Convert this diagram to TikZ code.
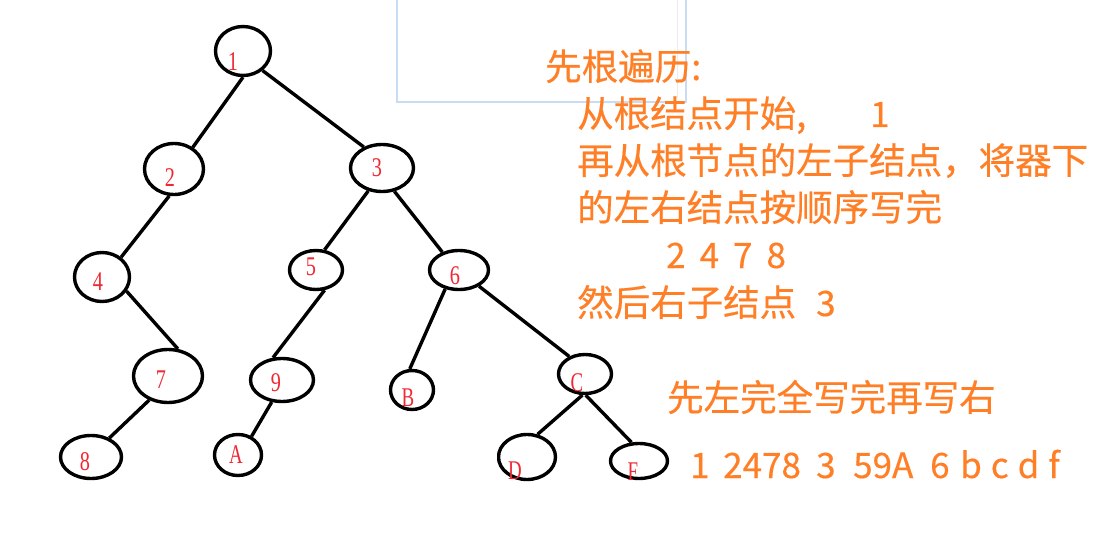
\documentclass[tikz,border=0pt]{standalone}
\usepackage{fontspec}
\usepackage{graphicx}
\usetikzlibrary{shapes.geometric}
\newfontfamily\cjk[FakeBold=0.4]{Noto Sans CJK SC}
\newfontfamily\lbl{Liberation Serif}
\definecolor{orng}{RGB}{255,127,39}
\definecolor{lblred}{RGB}{240,40,50}
\definecolor{frameblue}{RGB}{200,220,246}
\begin{document}
\begin{tikzpicture}[x=1pt,y=-1pt,
  tn/.style={draw=black, line width=3.4pt, ellipse, inner sep=0pt},
  edge/.style={draw=black, line width=3.4pt},
  lab/.style={text=lblred, font=\lbl\fontsize{27}{27}\selectfont, inner sep=0pt},
  txt/.style={text=orng, font=\cjk\fontsize{36.5}{36.5}\selectfont, anchor=base west, inner sep=0pt},
  num/.style={text=orng, font=\cjk\fontsize{35}{35}\selectfont, anchor=base west, inner sep=0pt}]
\useasboundingbox (0,0) rectangle (1120,543);
\fill[white] (0,0) rectangle (1120,543);

% faint frame
\draw[frameblue, line width=1.5pt] (397,-5) rectangle (686,102);
\draw[black!8, line width=1pt] (677,0) -- (677,98);

% tree nodes
\node[tn, minimum width=55pt, minimum height=49pt] (n1) at (243,51) {};
\node[tn, minimum width=59pt, minimum height=51pt] (n2) at (174,169) {};
\node[tn, minimum width=63pt, minimum height=47pt] (n3) at (382,168) {};
\node[tn, minimum width=55pt, minimum height=49pt] (n4) at (102,277) {};
\node[tn, minimum width=53pt, minimum height=39pt] (n5) at (316,270) {};
\node[tn, minimum width=59pt, minimum height=39pt] (n6) at (459,270) {};
\node[tn, minimum width=69pt, minimum height=53pt] (n7) at (168,376) {};
\node[tn, minimum width=61pt, minimum height=43pt] (n8) at (91,457) {};
\node[tn, minimum width=63pt, minimum height=43pt] (n9) at (282,380) {};
\node[tn, minimum width=47pt, minimum height=41pt] (nA) at (238,455) {};
\node[tn, minimum width=43pt, minimum height=39pt] (nB) at (412,390) {};
\node[tn, minimum width=53pt, minimum height=39pt] (nC) at (585,374) {};
\begin{scope}
  \clip (497,420) rectangle (600,495);
  \node[tn, minimum width=57pt, minimum height=45pt] (nD) at (527,457) {};
\end{scope}
\node[tn, minimum width=57pt, minimum height=35pt] (nF) at (639,461) {};

% edges
\draw[edge] (n1.270) -- (n2.49);
\draw[edge] (n1.315) -- (n3.131);
\draw[edge] (n2.260) -- (n4.46);
\draw[edge] (n3.239) -- (n5.67);
\draw[edge] (n3.298) -- (n6.133);
\draw[edge] (n4.330) -- (n7.70);
\draw[edge] (n7.232) -- (n8.46);
\draw[edge] (n5.293) -- (n9.112);
\draw[edge] (n9.245) -- (nA.54);
\draw[edge] (n6.234) -- (nB.96);
\draw[edge] (n6.321) -- (nC.132);
\draw[edge] (nC.263) -- (nD.65);
\draw[edge] (nC.272) -- (nF.112);

% labels
\node[lab] (l1) at (233,62) {\scalebox{0.75}[1]{1}};
\node[lab] (l2) at (170,178) {\scalebox{0.75}[1]{2}};
\node[lab] (l3) at (377,168) {\scalebox{0.75}[1]{3}};
\node[lab] (l4) at (98,282) {\scalebox{0.75}[1]{4}};
\node[lab] (l5) at (311,267) {\scalebox{0.75}[1]{5}};
\node[lab] (l6) at (455,276) {\scalebox{0.75}[1]{6}};
\node[lab] (l7) at (161,380) {\scalebox{0.75}[1]{7}};
\node[lab] (l8) at (85,462) {\scalebox{0.75}[1]{8}};
\node[lab] (l9) at (276,383) {\scalebox{0.75}[1]{9}};
\node[lab] (lA) at (236,455) {\scalebox{0.7}[1]{A}};
\node[lab] (lB) at (408,398) {\scalebox{0.7}[1]{B}};
\node[lab] (lC) at (577,383) {\scalebox{0.7}[1]{C}};
\node[lab] (lD) at (515,471) {\scalebox{0.7}[1]{D}};
\node[lab] (lF) at (633,472) {\scalebox{0.7}[1]{F}};

% text
\node[txt] (t1) at (545,80) {先根遍历:};
\node[txt] (t2) at (577,127) {从根结点开始,};
\node[num] (t2b) at (870,127) {1};
\node[txt] (t3) at (577,174) {再从根节点的左子结点，将器下};
\node[txt] (t4) at (577,221) {的左右结点按顺序写完};
\node[num] (t5) at (666,268) {\spaceskip=14pt 2 4 7 8};
\node[txt] (t6) at (577,316) {然后右子结点};
\node[num] (t6b) at (816,316) {3};
\node[txt] (t7) at (667,411) {先左完全写完再写右};
\node[num] (r1) at (690,478) {1};
\node[num] (r2) at (723,478) {2478};
\node[num] (r3) at (816,478) {3};
\node[num] (r4) at (853,478) {59A};
\node[num] (r5) at (930,478) {6};
\node[num] (r6) at (960,478) {\spaceskip=9pt b c d f};
\end{tikzpicture}
\end{document}
